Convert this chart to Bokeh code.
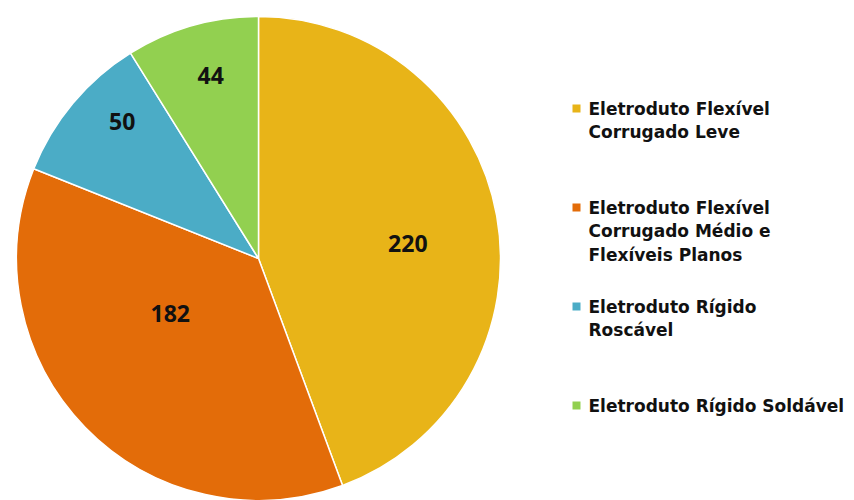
import math
from bokeh.plotting import figure
from bokeh.models import Range1d, ColumnDataSource
from bokeh.core.properties import value
from bokeh.embed import file_html
from bokeh.resources import INLINE

# ---- data ----
categories = [
    "Eletroduto Flexível\nCorrugado Leve",
    "Eletroduto Flexível\nCorrugado Médio e\nFlexíveis Planos",
    "Eletroduto Rígido\nRoscável",
    "Eletroduto Rígido Soldável",
]
values = [220, 182, 50, 44]
colors = ["#E8B418", "#E36C09", "#4BACC6", "#92D050"]

# ---- layout (pixels) ----
W, H = 854, 500
CX, CY, R = 258, H - 258, 242
label_frac = [0.62, 0.43, 0.80, 0.78]
label_dang = [4.5, 12.3, 5.3, 1.3]  # degrees clockwise adjustment of label placement
LEG_SQ_X, LEG_TEXT_X = 576, 588
LEG_FIRST_Y, LEG_STEP, LINE_H = 108, 99, 23.5

total = float(sum(values))
starts, ends, lx, ly = [], [], [], []
cum = 0.0
for i, v in enumerate(values):
    a0 = math.pi / 2 - cum / total * 2 * math.pi
    a1 = math.pi / 2 - (cum + v) / total * 2 * math.pi
    mid = (a0 + a1) / 2 - math.radians(label_dang[i])
    starts.append(a0)
    ends.append(a1)
    lx.append(CX + label_frac[i] * R * math.cos(mid))
    ly.append(CY + label_frac[i] * R * math.sin(mid))
    cum += v

p = figure(width=W, height=H, output_backend="svg", toolbar_location=None,
           x_range=Range1d(0, W), y_range=Range1d(0, H), min_border=0)
p.axis.visible = False
p.grid.visible = False
p.outline_line_color = None
p.background_fill_color = "white"
p.border_fill_color = "white"

src = ColumnDataSource(dict(start=starts, end=ends, color=colors,
                            lx=lx, ly=ly, lab=[str(v) for v in values]))
p.wedge(x=CX, y=CY, radius=R, start_angle="start", end_angle="end",
        direction="clock", fill_color="color", line_color="white",
        line_width=1.5, source=src)
p.text(x="lx", y="ly", text="lab", source=src, text_align="center",
       text_baseline="middle", text_font=value("Open Sans"),
       text_font_style="bold", text_font_size="23px", text_color="#111111")

# legend drawn manually
sq_x, sq_y, sq_c = [], [], []
tx, ty, tt = [], [], []
for i, cat in enumerate(categories):
    y0 = H - (LEG_FIRST_Y + i * LEG_STEP)
    sq_x.append(LEG_SQ_X)
    sq_y.append(y0)
    sq_c.append(colors[i])
    for j, line in enumerate(cat.split("\n")):
        tx.append(LEG_TEXT_X)
        ty.append(y0 - j * LINE_H)
        tt.append(line)

p.rect(x=sq_x, y=sq_y, width=8, height=8, fill_color=sq_c, line_color=None)
p.text(x=tx, y=ty, text=tt, text_align="left", text_baseline="middle",
       text_font=value("DejaVu Sans"), text_font_style="bold",
       text_font_size="17px", text_color="#111111")

open("out.html", "w").write(file_html(p, INLINE))
